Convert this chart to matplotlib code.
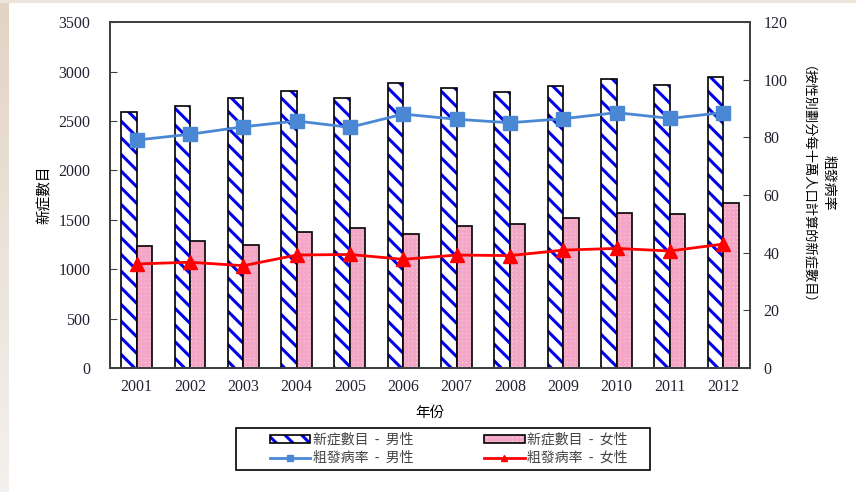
import matplotlib
matplotlib.use('Agg')
import matplotlib.pyplot as plt
import numpy as np
from matplotlib.patches import Rectangle

years = ['2001', '2002', '2003', '2004', '2005', '2006',
         '2007', '2008', '2009', '2010', '2011', '2012']
new_cases_male = [2590, 2655, 2735, 2805, 2735, 2885,
                  2830, 2795, 2855, 2920, 2865, 2940]
new_cases_female = [1230, 1290, 1245, 1380, 1415, 1360,
                    1440, 1455, 1515, 1570, 1555, 1670]
rate_male = [79.1, 81.1, 83.7, 85.7, 83.5, 88.1,
             86.3, 85.1, 86.5, 88.6, 86.6, 88.6]
rate_female = [36.1, 36.7, 35.5, 39.2, 39.4, 37.7,
               39.2, 39.0, 40.9, 41.5, 40.6, 43.0]

plt.rcParams['font.family'] = ['Noto Sans CJK TC', 'DejaVu Sans']
plt.rcParams['hatch.linewidth'] = 2.2

fig = plt.figure(figsize=(8.56, 4.92), dpi=100)

# slide background: thin beige edge on the left and top
bg = fig.add_axes([0, 0, 9 / 856, 1], zorder=-5)
grad = np.linspace(0, 1, 100).reshape(-1, 1)
bg.imshow(grad, aspect='auto', extent=(0, 1, 0, 1), origin='lower',
          cmap=matplotlib.colors.LinearSegmentedColormap.from_list(
              'bgl', ['#f3f0ed', '#ebe3da', '#e3d3c4']))
bg.axis('off')
fig.patches.append(Rectangle((0, 1 - 3 / 492), 1, 3 / 492,
                             transform=fig.transFigure, facecolor='#ede5dc',
                             edgecolor='none', zorder=-4))

ax = fig.add_axes([0.1285, 0.252, 0.7475, 0.703])
ax2 = ax.twinx()
ax.set_zorder(1)
ax2.set_zorder(2)
ax.patch.set_visible(False)
ax2.patch.set_visible(False)

x = np.arange(len(years))
w = 0.29
male_hatch = dict(facecolor='white', edgecolor='#0000ee', hatch='\\\\', linewidth=0)
female_hatch = dict(facecolor='#fcdbe9', edgecolor='#f4a6c6', hatch='++++', linewidth=0)
border = dict(facecolor='none', edgecolor='black', linewidth=1.2)

ax.bar(x - w / 2, new_cases_male, width=w, **male_hatch)
ax.bar(x - w / 2, new_cases_male, width=w, **border)
ax.bar(x + w / 2, new_cases_female, width=w, **female_hatch)
ax.bar(x + w / 2, new_cases_female, width=w, **border)

l1, = ax2.plot(x, rate_male, color='#4a88d6', lw=2, marker='s', markersize=10)
l2, = ax2.plot(x, rate_female, color='#ff0000', lw=2, marker='^', markersize=10)

ax.set_xlim(-0.5, len(years) - 0.5)
ax.set_ylim(0, 3500)
ax.set_yticks(np.arange(0, 3501, 500))
ax2.set_ylim(0, 120)
ax2.set_yticks(np.arange(0, 121, 20))
ax.set_xticks(x)
ax.set_xticklabels(years)

serif = {'family': 'Liberation Serif', 'size': 11.5}
for lbl in ax.get_xticklabels() + ax.get_yticklabels() + ax2.get_yticklabels():
    lbl.set_fontproperties(serif)

ax.tick_params(axis='y', direction='in', length=5, pad=14, colors='#404040',
               labelcolor='#222233')
ax2.tick_params(axis='y', direction='in', length=5, pad=10, colors='#404040',
                labelcolor='#222233')
ax.tick_params(axis='x', length=0, pad=8, labelcolor='#222233')
for a in (ax, ax2):
    for s in a.spines.values():
        s.set_color('#404040')
        s.set_linewidth(1.3)

ax.set_ylabel('新症數目', fontsize=10.5, labelpad=5)
ax.set_xlabel('年份', fontsize=10.5, labelpad=8)
fig.text(829 / 856, 1 - 183 / 492, '粗發病率', rotation=270, fontsize=10,
         ha='center', va='center')
fig.text(801 / 856, 1 - 192 / 492, '（按性別劃分每十萬人口計算的新症數目）',
         rotation=270, fontsize=9.5, ha='center', va='center')

# legend proxies: hatch fill with a black outline on top
h_male = (Rectangle((0, 0), 1, 1, **male_hatch), Rectangle((0, 0), 1, 1, **border))
h_female = (Rectangle((0, 0), 1, 1, **female_hatch), Rectangle((0, 0), 1, 1, **border))
leg = fig.legend([h_male, l1, h_female, l2],
                 ['新症數目  -  男性', '粗發病率  -  男性',
                  '新症數目  -  女性', '粗發病率  -  女性'],
                 ncol=2, loc='center left', bbox_to_anchor=(265 / 856, 1 - 449 / 492),
                 fontsize=10, frameon=False, markerscale=0.5,
                 handlelength=2.9, handleheight=0.5, columnspacing=5.1,
                 labelspacing=0.3, borderpad=0.35, handletextpad=0.2,
                 borderaxespad=0)
for t in leg.get_texts():
    t.set_color('#444444')
# the legend box in the original is wider than its entries
fig.patches.append(Rectangle((236 / 856, 1 - 470 / 492), 414 / 856, 42 / 492,
                             transform=fig.transFigure, facecolor='white',
                             edgecolor='black', linewidth=1.2, zorder=-1))

fig.savefig('out.png', dpi=100)
